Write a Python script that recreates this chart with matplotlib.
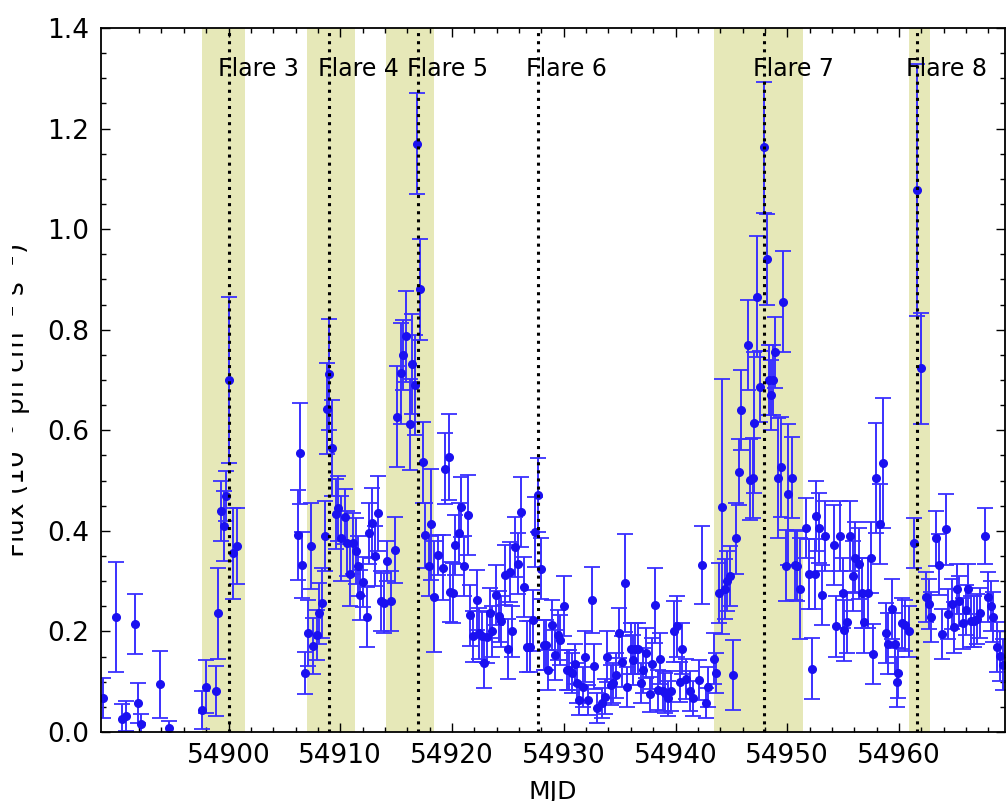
"""
Light curve with flare markers: binned flux vs MJD, shaded flare windows
and dotted lines at each flare peak.
"""

import matplotlib
matplotlib.use('Agg')
import matplotlib.pyplot as plt
from matplotlib.ticker import FixedLocator, FormatStrFormatter, MultipleLocator
from matplotlib.transforms import Bbox, TransformedBbox

# --- data ---
mjd = [
	54888.8, 54889.9, 54890.5, 54890.8, 54891.6, 54891.9, 54892.2, 54893.9, 54894.7,
	54897.6, 54898.0, 54898.9, 54899.1, 54899.3, 54899.6, 54899.8, 54900.05, 54900.4, 54900.8,
	54906.2, 54906.4, 54906.6, 54906.8, 54907.1, 54907.4, 54907.6, 54907.9, 54908.1, 54908.4,
	54908.6, 54908.8, 54909.0, 54909.3, 54909.6, 54909.8, 54910.1, 54910.4, 54910.6, 54910.9,
	54911.1, 54911.4, 54911.6, 54911.8, 54912.0, 54912.4, 54912.6, 54912.8, 54913.1, 54913.4,
	54913.6, 54913.9, 54914.2, 54914.5, 54914.9, 54915.1, 54915.4, 54915.6, 54915.9, 54916.2,
	54916.4, 54916.7, 54916.9, 54917.1, 54917.4, 54917.6, 54917.9, 54918.1, 54918.4, 54918.7,
	54919.2, 54919.4, 54919.7, 54919.8, 54920.1, 54920.3, 54920.6, 54920.8, 54921.1, 54921.4,
	54921.6, 54921.9, 54922.2, 54922.4, 54922.7, 54922.9, 54923.1, 54923.4, 54923.6, 54923.9,
	54924.2, 54924.4, 54924.7, 54925.0, 54925.2, 54925.4, 54925.6, 54925.9, 54926.2, 54926.4,
	54926.7, 54927.0, 54927.2, 54927.4, 54927.65, 54928.0, 54928.2, 54928.4, 54928.6, 54928.9,
	54929.2, 54929.5, 54929.7, 54930.0, 54930.3, 54930.5, 54930.7, 54931.0, 54931.2, 54931.4,
	54931.7, 54931.9, 54932.2, 54932.5, 54932.7, 54933.0, 54933.4, 54933.7, 54933.9, 54934.2,
	54934.4, 54934.7, 54934.9, 54935.2, 54935.5, 54935.7, 54936.0, 54936.2, 54936.4, 54936.6,
	54936.9, 54937.1, 54937.4, 54937.7, 54937.9, 54938.2, 54938.4, 54938.6, 54938.9, 54939.1,
	54939.3, 54939.6, 54939.9, 54940.1, 54940.4, 54940.6, 54940.9, 54941.3, 54941.6, 54942.1,
	54942.4, 54942.7, 54942.9, 54943.4, 54943.6, 54943.9, 54944.2, 54944.4, 54944.6, 54944.9,
	54945.1, 54945.4, 54945.7, 54945.9, 54946.5, 54946.7, 54946.9, 54947.05, 54947.3, 54947.6,
	54947.95, 54948.2, 54948.4, 54948.5, 54948.7, 54948.9, 54949.2, 54949.4, 54949.65, 54949.9,
	54950.1, 54950.4, 54950.7, 54950.9, 54951.1, 54951.7, 54951.95, 54952.2, 54952.5, 54952.6,
	54952.8, 54953.1, 54953.4, 54954.2, 54954.4, 54954.7, 54955.0, 54955.1, 54955.3, 54955.6,
	54955.9, 54956.1, 54956.4, 54956.7, 54956.9, 54957.2, 54957.5, 54957.7, 54957.9, 54958.3,
	54958.6, 54958.8, 54959.0, 54959.35, 54959.6, 54959.8, 54959.95, 54960.25, 54960.55, 54960.9,
	54961.35, 54961.6, 54961.95, 54962.4, 54962.7, 54962.9, 54963.3, 54963.6, 54963.85, 54964.2,
	54964.4, 54964.7, 54964.9, 54965.15, 54965.4, 54965.7, 54966.0, 54966.2, 54966.4, 54966.7,
	54967.0, 54967.25, 54967.7, 54967.95, 54968.25, 54968.45, 54968.75, 54969.05, 54969.3,
]
flux = [
	0.067, 0.229, 0.025, 0.032, 0.215, 0.058, 0.015, 0.095, 0.009,
	0.044, 0.090, 0.082, 0.236, 0.440, 0.410, 0.470, 0.700, 0.355, 0.370,
	0.392, 0.554, 0.332, 0.117, 0.197, 0.370, 0.171, 0.193, 0.236, 0.257,
	0.390, 0.643, 0.711, 0.565, 0.433, 0.445, 0.385, 0.428, 0.375, 0.315,
	0.375, 0.360, 0.330, 0.272, 0.298, 0.229, 0.395, 0.416, 0.350, 0.435,
	0.260, 0.256, 0.340, 0.260, 0.362, 0.627, 0.713, 0.750, 0.787, 0.612,
	0.732, 0.690, 1.170, 0.880, 0.536, 0.391, 0.330, 0.413, 0.269, 0.352,
	0.327, 0.524, 0.547, 0.279, 0.276, 0.372, 0.395, 0.448, 0.330, 0.432,
	0.232, 0.190, 0.262, 0.196, 0.190, 0.137, 0.188, 0.236, 0.200, 0.272,
	0.230, 0.220, 0.312, 0.165, 0.318, 0.200, 0.368, 0.335, 0.437, 0.289,
	0.170, 0.170, 0.222, 0.398, 0.471, 0.325, 0.173, 0.173, 0.123, 0.213,
	0.153, 0.193, 0.183, 0.250, 0.123, 0.124, 0.117, 0.136, 0.097, 0.064,
	0.090, 0.150, 0.064, 0.263, 0.131, 0.047, 0.057, 0.070, 0.150, 0.094,
	0.097, 0.113, 0.197, 0.140, 0.296, 0.090, 0.166, 0.143, 0.166, 0.166,
	0.097, 0.123, 0.157, 0.075, 0.136, 0.252, 0.084, 0.146, 0.081, 0.078,
	0.067, 0.081, 0.200, 0.210, 0.100, 0.166, 0.106, 0.081, 0.067, 0.104,
	0.332, 0.058, 0.090, 0.146, 0.117, 0.277, 0.448, 0.285, 0.300, 0.310,
	0.113, 0.385, 0.517, 0.640, 0.770, 0.502, 0.505, 0.615, 0.866, 0.687,
	1.163, 0.940, 0.700, 0.670, 0.700, 0.755, 0.505, 0.527, 0.856, 0.331,
	0.473, 0.506, 0.332, 0.330, 0.285, 0.406, 0.314, 0.126, 0.314, 0.430,
	0.406, 0.273, 0.390, 0.372, 0.210, 0.390, 0.277, 0.202, 0.218, 0.390,
	0.310, 0.347, 0.335, 0.277, 0.218, 0.277, 0.347, 0.155, 0.505, 0.414,
	0.535, 0.197, 0.176, 0.245, 0.176, 0.100, 0.117, 0.216, 0.212, 0.200,
	0.376, 1.078, 0.723, 0.268, 0.255, 0.229, 0.385, 0.333, 0.195, 0.403,
	0.234, 0.255, 0.208, 0.285, 0.260, 0.216, 0.242, 0.285, 0.220, 0.220,
	0.225, 0.237, 0.390, 0.268, 0.250, 0.229, 0.169, 0.151, 0.134,
]
flux_err = [
	0.040, 0.110, 0.030, 0.030, 0.060, 0.040, 0.020, 0.067, 0.012,
	0.037, 0.053, 0.050, 0.090, 0.060, 0.070, 0.050, 0.165, 0.090, 0.075,
	0.090, 0.100, 0.065, 0.042, 0.065, 0.085, 0.055, 0.050, 0.060, 0.070,
	0.070, 0.090, 0.110, 0.095, 0.070, 0.065, 0.085, 0.055, 0.065, 0.065,
	0.060, 0.065, 0.060, 0.050, 0.050, 0.060, 0.060, 0.070, 0.060, 0.075,
	0.060, 0.060, 0.040, 0.060, 0.065, 0.100, 0.100, 0.070, 0.090, 0.090,
	0.100, 0.100, 0.100, 0.100, 0.080, 0.065, 0.060, 0.110, 0.110, 0.040,
	0.065, 0.070, 0.085, 0.060, 0.060, 0.060, 0.060, 0.060, 0.060, 0.080,
	0.060, 0.050, 0.060, 0.050, 0.050, 0.050, 0.050, 0.050, 0.050, 0.060,
	0.050, 0.050, 0.060, 0.060, 0.060, 0.050, 0.060, 0.060, 0.070, 0.060,
	0.050, 0.050, 0.060, 0.070, 0.073, 0.060, 0.050, 0.050, 0.040, 0.050,
	0.050, 0.050, 0.050, 0.060, 0.040, 0.040, 0.040, 0.040, 0.040, 0.030,
	0.040, 0.050, 0.030, 0.066, 0.045, 0.030, 0.030, 0.035, 0.050, 0.040,
	0.040, 0.045, 0.050, 0.050, 0.098, 0.040, 0.050, 0.050, 0.050, 0.050,
	0.040, 0.045, 0.050, 0.035, 0.050, 0.075, 0.040, 0.050, 0.040, 0.040,
	0.035, 0.040, 0.060, 0.060, 0.040, 0.050, 0.040, 0.040, 0.035, 0.040,
	0.078, 0.030, 0.040, 0.050, 0.040, 0.060, 0.253, 0.060, 0.060, 0.060,
	0.070, 0.070, 0.065, 0.080, 0.090, 0.080, 0.080, 0.140, 0.120, 0.070,
	0.130, 0.090, 0.070, 0.070, 0.070, 0.070, 0.120, 0.100, 0.100, 0.070,
	0.140, 0.080, 0.070, 0.070, 0.100, 0.060, 0.070, 0.060, 0.070, 0.070,
	0.070, 0.060, 0.070, 0.080, 0.060, 0.070, 0.070, 0.060, 0.060, 0.070,
	0.070, 0.070, 0.070, 0.070, 0.060, 0.070, 0.070, 0.060, 0.110, 0.080,
	0.130, 0.060, 0.060, 0.060, 0.060, 0.050, 0.050, 0.050, 0.050, 0.050,
	0.050, 0.250, 0.110, 0.050, 0.050, 0.050, 0.055, 0.060, 0.050, 0.070,
	0.050, 0.050, 0.050, 0.050, 0.050, 0.050, 0.050, 0.050, 0.050, 0.050,
	0.050, 0.050, 0.055, 0.050, 0.050, 0.050, 0.050, 0.050, 0.050,
]

flare_names = ['Flare 3', 'Flare 4', 'Flare 5', 'Flare 6', 'Flare 7', 'Flare 8']
flare_peak = [54900.07, 54909.0, 54916.93, 54927.65, 54947.95, 54961.61]
# shaded windows (Flare 6 has none)
band_start = [54897.6, 54907.0, 54914.1, 54943.45, 54960.92]
band_end = [54901.48, 54911.32, 54918.39, 54951.38, 54962.77]

x_major = [54900, 54910, 54920, 54930, 54940, 54950, 54960]
x_minor = [54892, 54894, 54896, 54898] + [m + d for m in x_major for d in (2, 4, 6, 8)]


def main():
	fig = plt.figure(figsize=(10.07, 8.01), dpi=100)
	ax = fig.add_axes([0.1, 0.0861, 0.898, 0.879])

	for x0, x1 in zip(band_start, band_end):
		ax.axvspan(x0, x1, facecolor='#e6e8b8', edgecolor='none', zorder=0)

	ax.errorbar(mjd, flux, yerr=flux_err, fmt='o', color='#1a10f0',
		ecolor='#3a30ff', markersize=5.5, elinewidth=1.4,
		capsize=5.5, capthick=1.3, zorder=2)

	for name, t in zip(flare_names, flare_peak):
		ax.axvline(t, color='black', linestyle=':', linewidth=2.2, zorder=3)
		ax.text(t - 1.0, 1.318, name, fontsize=17, ha='left', va='center', zorder=4)

	ax.set_xlim(54888.56, 54969.48)
	ax.set_ylim(0.0, 1.4)

	ax.xaxis.set_major_locator(FixedLocator(x_major))
	ax.xaxis.set_minor_locator(FixedLocator(x_minor))
	ax.xaxis.set_major_formatter(FormatStrFormatter('%d'))
	ax.yaxis.set_major_locator(MultipleLocator(0.2))
	ax.yaxis.set_minor_locator(MultipleLocator(0.05))
	ax.yaxis.set_major_formatter(FormatStrFormatter('%.1f'))

	ax.tick_params(which='both', direction='in', top=True, right=True, labelsize=19)
	ax.tick_params(which='major', length=6.5, width=1.0, pad=8)
	ax.tick_params(which='minor', length=3.5, width=1.0)
	for s in ax.spines.values():
		s.set_linewidth(1.3)

	ax.set_xlabel('MJD', fontsize=18)
	ax.xaxis.set_label_coords(0.5, -0.068)
	ax.set_ylabel(r'Flux (10$^{-6}$ ph cm$^{-2}$ s$^{-1}$)', fontsize=19)
	ax.yaxis.set_label_coords(-0.075, 0.47)

	# the source figure was cropped: the left part of the y label is lost
	ylab = ax.yaxis.label
	ylab.set_clip_box(TransformedBbox(Bbox([[12 / 1007, 0], [1, 1]]), fig.transFigure))
	ylab.set_clip_on(True)

	fig.savefig('out.png', dpi=100)


if __name__ == '__main__':
	main()
